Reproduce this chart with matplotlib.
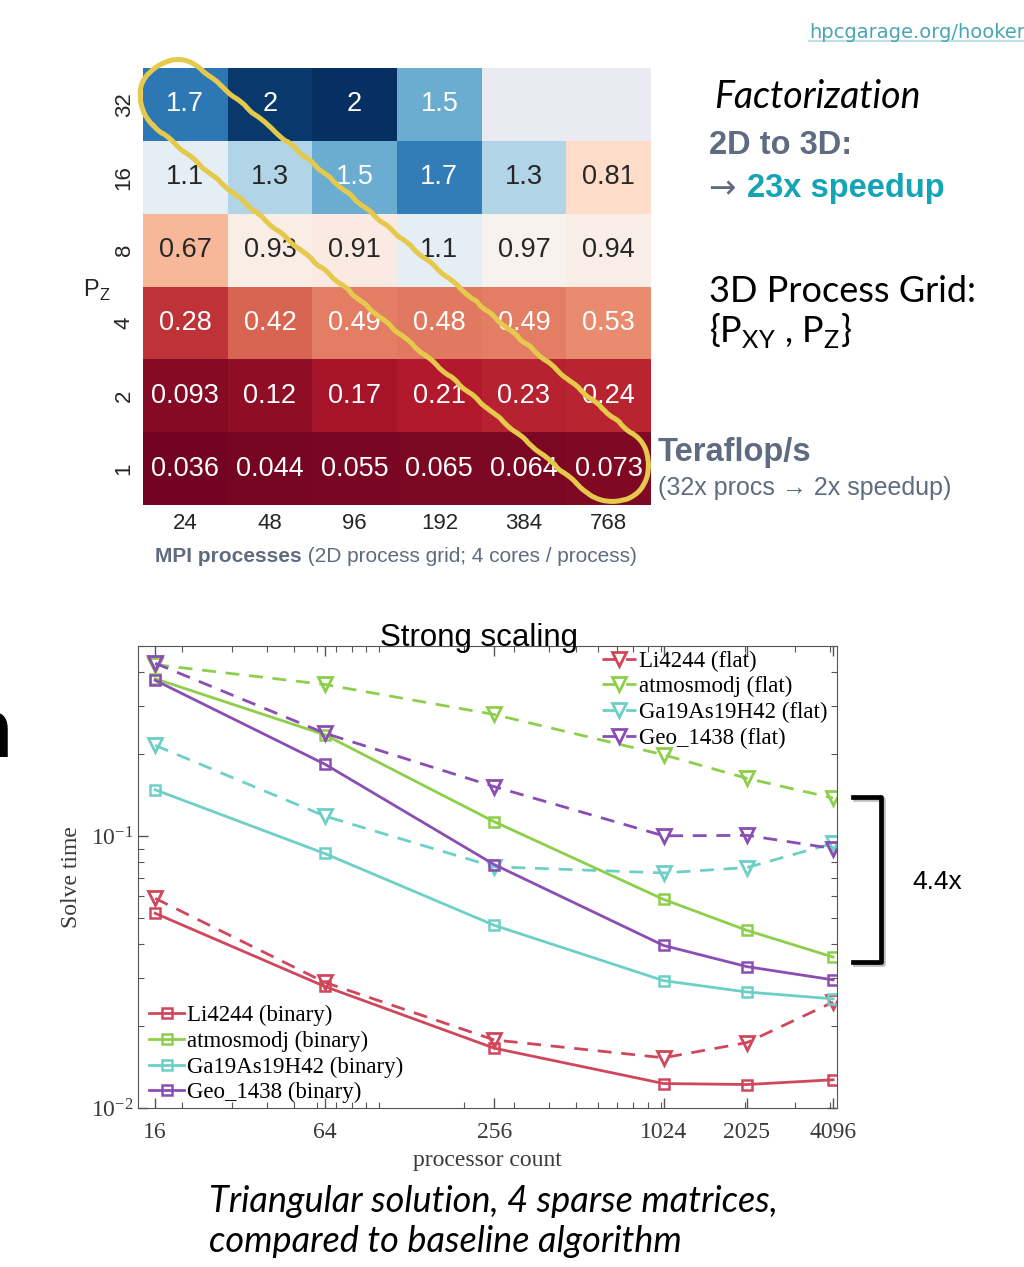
import numpy as np
import pandas as pd
import matplotlib
matplotlib.use("Agg")
import matplotlib.pyplot as plt
import matplotlib.patheffects as pe
from matplotlib.ticker import FixedLocator, NullFormatter, LogLocator
import seaborn as sns

plt.rcParams['font.family'] = ['Liberation Sans', 'DejaVu Sans']

# --- heatmap data (Teraflop/s) ---
pz = [32, 16, 8, 4, 2, 1]
mpi = [24, 48, 96, 192, 384, 768]
tflops = [
    [1.72, 1.96, 2.0, 1.5, np.nan, np.nan],
    [1.1, 1.3, 1.5, 1.7, 1.3, 0.81],
    [0.67, 0.93, 0.91, 1.1, 0.97, 0.94],
    [0.28, 0.42, 0.49, 0.48, 0.49, 0.53],
    [0.093, 0.12, 0.17, 0.21, 0.23, 0.24],
    [0.036, 0.044, 0.055, 0.065, 0.064, 0.073],
]

# --- strong scaling data (solve time) ---
procs = [16, 64, 256, 1024, 2025, 4096]
li_bin = [0.052, 0.028, 0.0166, 0.0123, 0.0122, 0.0127]
li_flat = [0.059, 0.029, 0.0178, 0.0153, 0.0174, 0.0245]
atm_bin = [0.379, 0.236, 0.113, 0.0585, 0.045, 0.0359]
atm_flat = [0.427, 0.361, 0.28, 0.199, 0.163, 0.138]
ga_bin = [0.148, 0.0863, 0.047, 0.0294, 0.0267, 0.0252]
ga_flat = [0.2155, 0.1185, 0.0771, 0.0732, 0.0766, 0.094]
geo_bin = [0.374, 0.184, 0.0786, 0.0396, 0.0331, 0.0296]
geo_flat = [0.432, 0.239, 0.152, 0.1002, 0.1006, 0.090]

names = ['Li4244', 'atmosmodj', 'Ga19As19H42', 'Geo_1438']
colors = ['#d0475c', '#8dcf4a', '#6dd0c7', '#8a4db3']
bins = [li_bin, atm_bin, ga_bin, geo_bin]
flats = [li_flat, atm_flat, ga_flat, geo_flat]

W, H = 1024, 1267
fig = plt.figure(figsize=(W / 100, H / 100), dpi=100)

# ---------------- heatmap ----------------
ax1 = fig.add_axes([143 / W, 1 - 505 / H, 508 / W, 437 / H])
ax1.set_facecolor('#eaeaf2')
df = pd.DataFrame(tflops, index=pz, columns=mpi)
sns.heatmap(df, ax=ax1, cmap='RdBu', center=1, annot=True, fmt='.2g', cbar=False,
            annot_kws={'size': 19.5, 'family': 'Liberation Sans'})
ax1.set_yticklabels([str(p) for p in pz], rotation=90, va='center')
ax1.set_xticklabels([str(m) for m in mpi], rotation=0)
ax1.tick_params(length=0, labelsize=16, labelcolor='#262626', pad=6)
ax1.tick_params(axis='y', pad=6)
ax1.set_xlabel('')
ax1.set_ylabel('')

# ---------------- strong scaling ----------------
ax2 = fig.add_axes([138 / W, 1 - 1108 / H, 699 / W, 462 / H])
ax2.set_xscale('log')
ax2.set_yscale('log')
flat_handles = []
bin_handles = []
for nm, c, yb, yf in zip(names, colors, bins, flats):
    hf, = ax2.plot(procs, yf, ls='--', dashes=(5, 3.5), color=c, lw=2, marker='v',
                   ms=10, mfc='none', mew=2, label=nm + ' (flat)')
    hb, = ax2.plot(procs, yb, ls='-', color=c, lw=2, marker='s',
                   ms=7.5, mfc='none', mew=1.8, label=nm + ' (binary)')
    flat_handles.append(hf)
    bin_handles.append(hb)

ax2.set_xlim(13.9, 4230)
ax2.set_ylim(0.01, 0.5)
ax2.xaxis.set_major_locator(FixedLocator(procs))
ax2.xaxis.set_minor_locator(LogLocator(base=10, subs=np.arange(1, 10), numticks=50))
ax2.xaxis.set_minor_formatter(NullFormatter())
ax2.set_xticklabels([str(p) for p in procs], fontfamily='Liberation Serif')
ax2.yaxis.set_major_locator(FixedLocator([0.01, 0.1]))
ax2.yaxis.set_minor_locator(LogLocator(base=10, subs=np.arange(2, 10), numticks=50))
ax2.yaxis.set_minor_formatter(NullFormatter())
ax2.set_yticklabels([r'$\mathdefault{10^{-2}}$', r'$\mathdefault{10^{-1}}$'],
                    fontfamily='Liberation Serif')
ax2.tick_params(which='both', direction='in', top=True, right=True, color='#555555',
                labelsize=17, labelcolor='#3a3a3a')
ax2.tick_params(which='major', length=7, width=1)
ax2.tick_params(which='minor', length=4, width=0.8)
ax2.tick_params(axis='x', which='major', pad=10)
for s in ax2.spines.values():
    s.set_color('#555555')
ax2.set_xlabel('processor count', fontfamily='Liberation Serif', fontsize=17,
               color='#3a3a3a', labelpad=5)
ax2.set_ylabel('Solve time', fontfamily='Liberation Serif', fontsize=17,
               color='#3a3a3a', labelpad=6)

leg_kw = dict(frameon=False, handlelength=1.5, handletextpad=0.15, labelspacing=0.2,
              prop={'family': 'Liberation Serif', 'size': 16.5})
leg1 = ax2.legend(handles=flat_handles, loc='upper right', borderaxespad=0.0,
                  bbox_to_anchor=(1.0, 1.01), **leg_kw)
ax2.add_artist(leg1)
ax2.legend(handles=bin_handles, loc='lower left', bbox_to_anchor=(0.0, -0.015),
           borderaxespad=0.1, **leg_kw)

# ---------------- overlay annotations (pixel coords) ----------------
ov = fig.add_axes([0, 0, 1, 1], zorder=10)
ov.set_xlim(0, W)
ov.set_ylim(H, 0)
ov.axis('off')
ov.patch.set_alpha(0)

ov.text(809, 32, 'hpcgarage.org/hooker', color='#4aa5b5', fontsize=14,
        family='Liberation Sans Narrow', va='center', ha='left')
ov.plot([809, 1024], [41, 41], color='#bfdfe4', lw=1.5)

# hand drawn loop over the diagonal
c1 = np.array([177.0, 97.0])
c2 = np.array([612.0, 465.0])
r = 37
d = (c2 - c1) / np.linalg.norm(c2 - c1)
ang = np.arctan2(d[1], d[0])
t1 = np.linspace(ang + np.pi / 2, ang + 3 * np.pi / 2, 60)
t2 = np.linspace(ang - np.pi / 2, ang + np.pi / 2, 60)
arc1 = c1 + r * np.c_[np.cos(t1), np.sin(t1)]
arc2 = c2 + r * np.c_[np.cos(t2), np.sin(t2)]
loop = np.vstack([arc1, arc2, arc1[:1]])
ln, = ov.plot(loop[:, 0], loop[:, 1], color='#e4c94c', lw=3.6, solid_capstyle='round')
ln.set_sketch_params(0.6, 40, 4)

ov.text(97, 290, r'P$_\mathdefault{Z}$', fontsize=17, color='#262626', ha='center', va='center')
ov.text(155, 557, 'MPI processes', fontsize=15, fontweight='bold', color='#5f6b80',
        ha='left', va='center')
t = ov.texts[-1]
ov.annotate(' (2D process grid; 4 cores / process)', xy=(1, 0), xycoords=t,
            fontsize=15, color='#5f6b80', ha='left', va='bottom')

ov.text(714, 97, 'Factorization', fontsize=27, style='italic', family='Lato',
        color='black', ha='left', va='center')
ov.text(709, 146, '2D to 3D:', fontsize=23.5, fontweight='bold', color='#5f6b80',
        ha='left', va='center')
ov.text(709, 188, '\u2192 ', fontsize=23.5, color='#5f6b80', ha='left', va='center',
        family='DejaVu Sans')
t = ov.texts[-1]
ov.annotate('23x speedup', xy=(1, 0), xycoords=t, fontsize=23.5, fontweight='bold',
            color='#15a3b6', ha='left', va='bottom')
ov.text(709, 292, '3D Process Grid:', fontsize=26, family='Lato', color='black',
        ha='left', va='center')
ov.text(709, 330, r'{P$_\mathdefault{XY}$ , P$_\mathdefault{Z}$}', fontsize=26,
        family='Lato', color='black', ha='left', va='center')
ov.text(658, 453, 'Teraflop/s', fontsize=23.5, fontweight='bold', color='#5f6b80',
        ha='left', va='center')
ov.text(658, 488, '(32x procs \u2192 2x speedup)', fontsize=18, color='#5f6b80',
        ha='left', va='center')

ov.text(12, 757, 'n', fontsize=60, fontweight='bold', color='black', ha='right',
        va='baseline')

ov.text(479, 646, 'Strong scaling', fontsize=22.5, color='black', ha='center',
        va='baseline')

br, = ov.plot([853, 881, 881, 853], [797, 797, 962, 962], color='black', lw=3.4,
              solid_joinstyle='round')
br.set_path_effects([pe.SimpleLineShadow(offset=(1.5, -1.5), shadow_color='gray', alpha=0.5),
                     pe.Normal()])
ov.text(912, 882, '4.4x', fontsize=19, color='black', ha='left', va='center')

ov.text(209, 1202, 'Triangular solution, 4 sparse matrices,', fontsize=26, style='italic',
        family='Lato', color='black', ha='left', va='center')
ov.text(209, 1242, 'compared to baseline algorithm', fontsize=26, style='italic',
        family='Lato', color='black', ha='left', va='center')

fig.savefig('out.png', dpi=100)
